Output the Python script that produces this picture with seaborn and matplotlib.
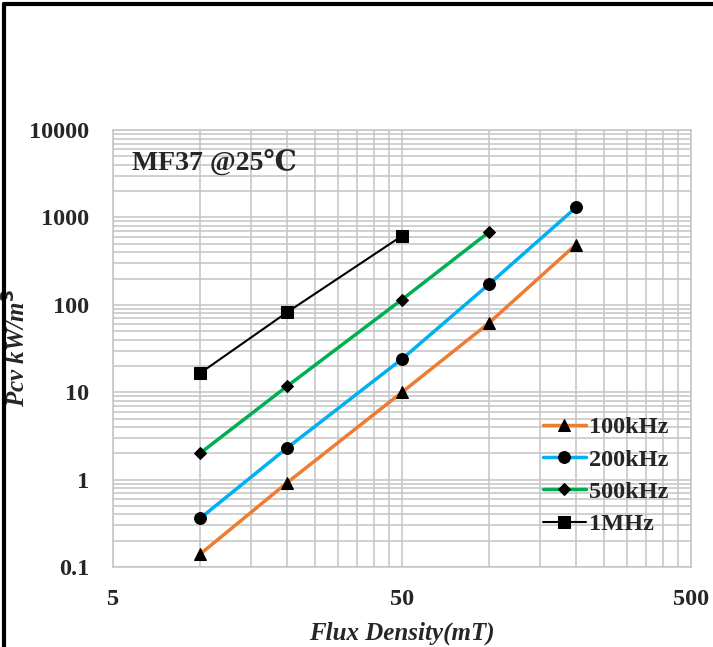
import numpy as np
import pandas as pd
import seaborn as sns
import matplotlib.pyplot as plt
from matplotlib.lines import Line2D
from matplotlib.ticker import FixedLocator, LogLocator, NullFormatter

# datos
flux = [10, 20, 50, 100, 200]
p_100k = [0.14, 0.92, 10, 62, 490]
p_200k = [0.36, 2.3, 24, 172, 1300]
p_500k = [2.0, 11.7, 115, 680]
p_1m = [16.5, 82, 615]

series = ['100kHz', '200kHz', '500kHz', '1MHz']
values = [p_100k, p_200k, p_500k, p_1m]
colors = ['#ED7D31', '#00B0F0', '#00B050', '#000000']
markers = ['^', 'o', 'D', 's']
msizes = [9, 8.5, 6, 8]
widths = [2.5, 2.5, 2.5, 1.5]

x_ticks = [5, 50, 500]
y_ticks = [0.1, 1, 10, 100, 1000, 10000]

sns.set_theme(style='white')
plt.rcParams['font.family'] = ['Liberation Serif', 'DejaVu Serif']
plt.rcParams['font.weight'] = 'bold'

fig = plt.figure(figsize=(7.13, 6.47), dpi=100)
ax = fig.add_axes([0.1585, 0.1236, 0.8106, 0.6754])

for name, vals, c, m, ms, lw in zip(series, values, colors, markers, msizes, widths):
    df = pd.DataFrame({'x': flux[:len(vals)], 'y': vals})
    sns.lineplot(data=df, x='x', y='y', ax=ax, color=c, lw=lw, marker=m,
                 markersize=ms, markerfacecolor='black', markeredgecolor='black',
                 label=name)

ax.set_xscale('log')
ax.set_yscale('log')
ax.set_xlim(5, 500)
ax.set_ylim(0.1, 10000)

# rejilla estilo Excel: menores en multiplos de 5 y 50
minor_x = list(range(5, 50, 5)) + list(range(50, 500, 50))
ax.xaxis.set_major_locator(FixedLocator(x_ticks))
ax.xaxis.set_minor_locator(FixedLocator(minor_x))
ax.yaxis.set_major_locator(FixedLocator(y_ticks))
ax.yaxis.set_minor_locator(LogLocator(base=10, subs=np.arange(2, 10)))
ax.set_xticklabels([str(t) for t in x_ticks])
ax.set_yticklabels(['0.1', '1', '10', '100', '1000', '10000'])
ax.xaxis.set_minor_formatter(NullFormatter())
ax.yaxis.set_minor_formatter(NullFormatter())

ax.grid(True, which='both', color='#c4c4c4', lw=1.1)
ax.tick_params(which='both', length=0)
ax.tick_params(axis='y', pad=17, labelsize=17.5)
ax.tick_params(axis='x', pad=16, labelsize=17.5)
for lab in ax.get_xticklabels() + ax.get_yticklabels():
    lab.set_fontweight('bold')
for s in ax.spines.values():
    s.set_color('#c4c4c4')
    s.set_linewidth(1.1)

ax.set_xlabel('Flux Density(mT)', fontsize=18, fontweight='bold', style='italic')
ax.set_ylabel('Pcv kW/m$^3$', fontsize=18, fontweight='bold', style='italic')
ax.xaxis.set_label_coords(0.5, -0.124)
ax.yaxis.set_label_coords(-0.142, 0.5)

ax.text(0.033, 0.925, 'MF37 @25℃', transform=ax.transAxes, fontsize=20,
        fontweight='bold', va='center', ha='left')

leg = ax.legend(loc='lower right', bbox_to_anchor=(0.99, 0.034), frameon=False,
                fontsize=17.5, handlelength=1.8, handletextpad=0.1, labelspacing=0.42,
                borderaxespad=0.3)
for t in leg.get_texts():
    t.set_fontweight('bold')

# marco negro del recuadro
fig.add_artist(Line2D([0.0056, 0.0056], [0, 0.994], transform=fig.transFigure, color='black', lw=3))
fig.add_artist(Line2D([0.0056, 1.0], [0.994, 0.994], transform=fig.transFigure, color='black', lw=3))

plt.savefig('out.png', dpi=100)
